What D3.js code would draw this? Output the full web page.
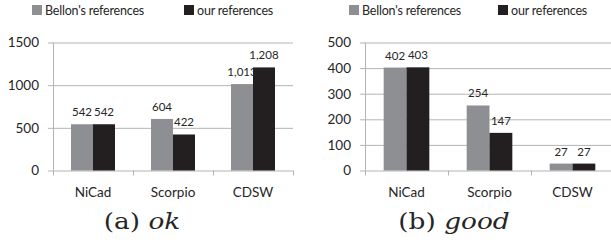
<!DOCTYPE html>
<html>
<head>
<meta charset="utf-8">
<script src="https://cdn.jsdelivr.net/npm/d3@7/dist/d3.min.js"></script>
<style>
    body { margin: 0; background: #fff; }
    svg { display: block; }
    text { font-family: Lato, 'Open Sans', sans-serif; fill: #262626; }
</style>
</head>
<body>
<svg width="611" height="248"></svg>
<script>
const categories = ['NiCad', 'Scorpio', 'CDSW'];
const seriesNames = ["Bellon's references", 'our references'];

const okBellon = [542, 604, 1013];
const okOurs = [542, 422, 1208];
const okTicks = [0, 500, 1000, 1500];

const goodBellon = [402, 254, 27];
const goodOurs = [403, 147, 27];
const goodTicks = [0, 100, 200, 300, 400, 500];

const colors = ['#8e8f92', '#231f20'];
const gridColor = '#b4b4b4';

const svg = d3.select('svg');

function drawPanel({ axisX, plotWidth, legendX, legendGap, ticks, bellon, ours, captionX, label, word }) {
    const g = svg.append('g');

    const y = d3.scaleLinear()
        .domain([0, d3.max(ticks)])
        .range([170.5, 42.5]);

    const x = d3.scaleBand()
        .domain(categories)
        .range([axisX, axisX + plotWidth])
        .paddingInner(0.45)
        .paddingOuter(0.225);

    const xSeries = d3.scaleBand()
        .domain(seriesNames)
        .range([0, x.bandwidth()]);

    // gridlines + y labels: axis sits at the right end so ticks run across the plot
    const yAxis = g.append('g')
        .attr('transform', `translate(${axisX + plotWidth},0)`)
        .call(d3.axisLeft(y)
            .tickValues(ticks)
            .tickSize(plotWidth + 5)
            .tickPadding(9)
            .tickFormat(d3.format('d')));

    yAxis.select('.domain').remove();
    yAxis.selectAll('line').attr('stroke', gridColor);
    yAxis.selectAll('text')
        .style('font-size', '13.5px')
        .attr('fill', '#262626');

    g.append('line')
        .attr('x1', axisX + 0.5)
        .attr('x2', axisX + 0.5)
        .attr('y1', y(d3.max(ticks)))
        .attr('y2', y(0))
        .attr('stroke', gridColor);

    // little ticks under the baseline between categories
    g.selectAll('.xtick')
        .data(d3.range(categories.length + 1))
        .enter()
        .append('line')
        .attr('class', 'xtick')
        .attr('x1', i => Math.round(axisX + i * x.step()) + 0.5)
        .attr('x2', i => Math.round(axisX + i * x.step()) + 0.5)
        .attr('y1', y(0))
        .attr('y2', y(0) + 5)
        .attr('stroke', gridColor);

    const rows = categories.map((c, i) => ({ c, values: [bellon[i], ours[i]] }));

    const group = g.selectAll('.group')
        .data(rows)
        .enter()
        .append('g')
        .attr('transform', d => `translate(${x(d.c)},0)`);

    const cells = group.selectAll('.cell')
        .data(d => d.values.map((v, k) => ({ name: seriesNames[k], v, k })))
        .enter();

    cells.append('rect')
        .attr('x', d => xSeries(d.name))
        .attr('width', xSeries.bandwidth())
        .attr('y', d => y(d.v))
        .attr('height', d => y(0) - y(d.v))
        .attr('fill', d => colors[d.k]);

    cells.append('text')
        .attr('x', d => xSeries(d.name) + xSeries.bandwidth() / 2)
        .attr('y', d => y(d.v) - 8)
        .attr('text-anchor', 'middle')
        .style('font-size', '11.5px')
        .text(d => d3.format(',')(d.v));

    g.selectAll('.cat')
        .data(categories)
        .enter()
        .append('text')
        .attr('x', d => x(d) + x.bandwidth() / 2)
        .attr('y', 197)
        .attr('text-anchor', 'middle')
        .style('font-size', '13.5px')
        .text(d => d);

    // legend
    const legend = g.selectAll('.legend')
        .data(seriesNames)
        .enter()
        .append('g')
        .attr('transform', (d, i) => `translate(${legendX + i * legendGap},0)`);

    legend.append('rect')
        .attr('x', 0)
        .attr('y', 5)
        .attr('width', 10)
        .attr('height', 10)
        .attr('fill', (d, i) => colors[i]);

    legend.append('text')
        .attr('x', 13)
        .attr('y', 15)
        .style('font-size', '12.5px')
        .style('letter-spacing', '-0.2px')
        .text(d => d);

    // caption in a serif face, like the LaTeX subfigure (the figure is a bit stretched sideways)
    const cap = g.append('text')
        .attr('transform', `translate(${captionX},229) scale(1.2,1)`)
        .attr('text-anchor', 'middle')
        .style('font-family', "'DejaVu Serif', 'Liberation Serif', serif")
        .style('font-size', '22px')
        .style('font-weight', 300);

    cap.append('tspan').text(`(${label}) `);
    cap.append('tspan').style('font-style', 'italic').text(word);
}

drawPanel({
    axisX: 53,
    plotWidth: 240,
    legendX: 32,
    legendGap: 152,
    ticks: okTicks,
    bellon: okBellon,
    ours: okOurs,
    captionX: 142,
    label: 'a',
    word: 'ok'
});

drawPanel({
    axisX: 365,
    plotWidth: 249,
    legendX: 349,
    legendGap: 149,
    ticks: goodTicks,
    bellon: goodBellon,
    ours: goodOurs,
    captionX: 454,
    label: 'b',
    word: 'good'
});
</script>
</body>
</html>
